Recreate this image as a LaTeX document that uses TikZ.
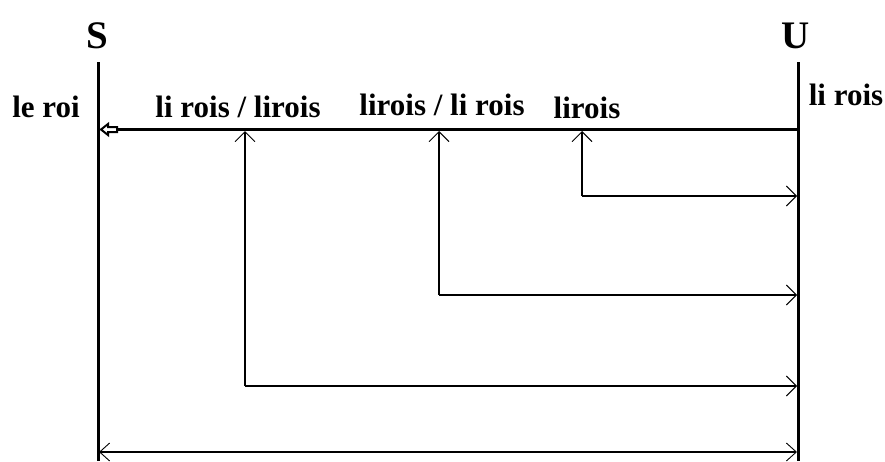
\documentclass[tikz,border=0pt]{standalone}
\usepackage{fontspec}
\setmainfont{Liberation Serif}
\usetikzlibrary{arrows.meta}
\begin{document}
\begin{tikzpicture}[x=1pt,y=-1pt,
  axis/.style={line width=3pt},
  mainline/.style={line width=3.2pt},
  hollowtip/.style={line width=2pt, line join=miter, fill=white},
  link/.style={line width=1.1pt, -{Straight Barb[length=10pt,width=20pt,line width=0.9pt]}},
  span/.style={line width=1.1pt, {Straight Barb[length=10pt,width=18pt,line width=0.9pt]}-{Straight Barb[length=10pt,width=18pt,line width=0.9pt]}},
  lbl/.style={font=\bfseries\fontsize{31}{31}\selectfont, anchor=base, inner sep=0pt},
  head/.style={font=\bfseries\fontsize{39}{39}\selectfont, anchor=base, inner sep=0pt}]
\useasboundingbox (0,0) rectangle (885,461);

% the two vertical axes
\coordinate (Stop) at (98,62);
\coordinate (Sbot) at (98,461);
\coordinate (Utop) at (798,62);
\coordinate (Ubot) at (798,461);
\draw[axis] (Stop) -- (Sbot);
\draw[axis] (Utop) -- (Ubot);
\node[head] (S) at (97,48) {S};
\node[head] (U) at (796,48) {U};

% main line from U to S, ending in a hollow block arrow
\coordinate (Mr) at (798,129.5);
\coordinate (Ml) at (117,129.5);
\draw[mainline] (Mr) -- (Ml);
\draw[hollowtip] (101,129.5) -- (108,124) -- (108,127) -- (117,127) -- (117,132)
  -- (108,132) -- (108,135) -- cycle;

% labels
\node[lbl] (leroi) at (46,117) {le roi};
\node[lbl] (l1) at (238,117) {li rois / lirois};
\node[lbl] (l2) at (442,115) {lirois / li rois};
\node[lbl] (l3) at (587,118) {lirois};
\node[lbl] (lir) at (846,105) {li rois};

% feedback links
\coordinate (a1) at (245,386);
\coordinate (t1) at (245,131);
\coordinate (e1) at (797,386);
\coordinate (a2) at (439,295);
\coordinate (t2) at (439,131);
\coordinate (e2) at (797,295);
\coordinate (a3) at (582,196);
\coordinate (t3) at (582,131);
\coordinate (e3) at (797,196);
\draw[link] (a1) -- (t1);
\draw[link] (a1) -- (e1);
\draw[link] (a2) -- (t2);
\draw[link] (a2) -- (e2);
\draw[link] (a3) -- (t3);
\draw[link] (a3) -- (e3);

% overall span
\coordinate (bl) at (99,452);
\coordinate (br) at (797,452);
\draw[span] (bl) -- (br);
\end{tikzpicture}
\end{document}
